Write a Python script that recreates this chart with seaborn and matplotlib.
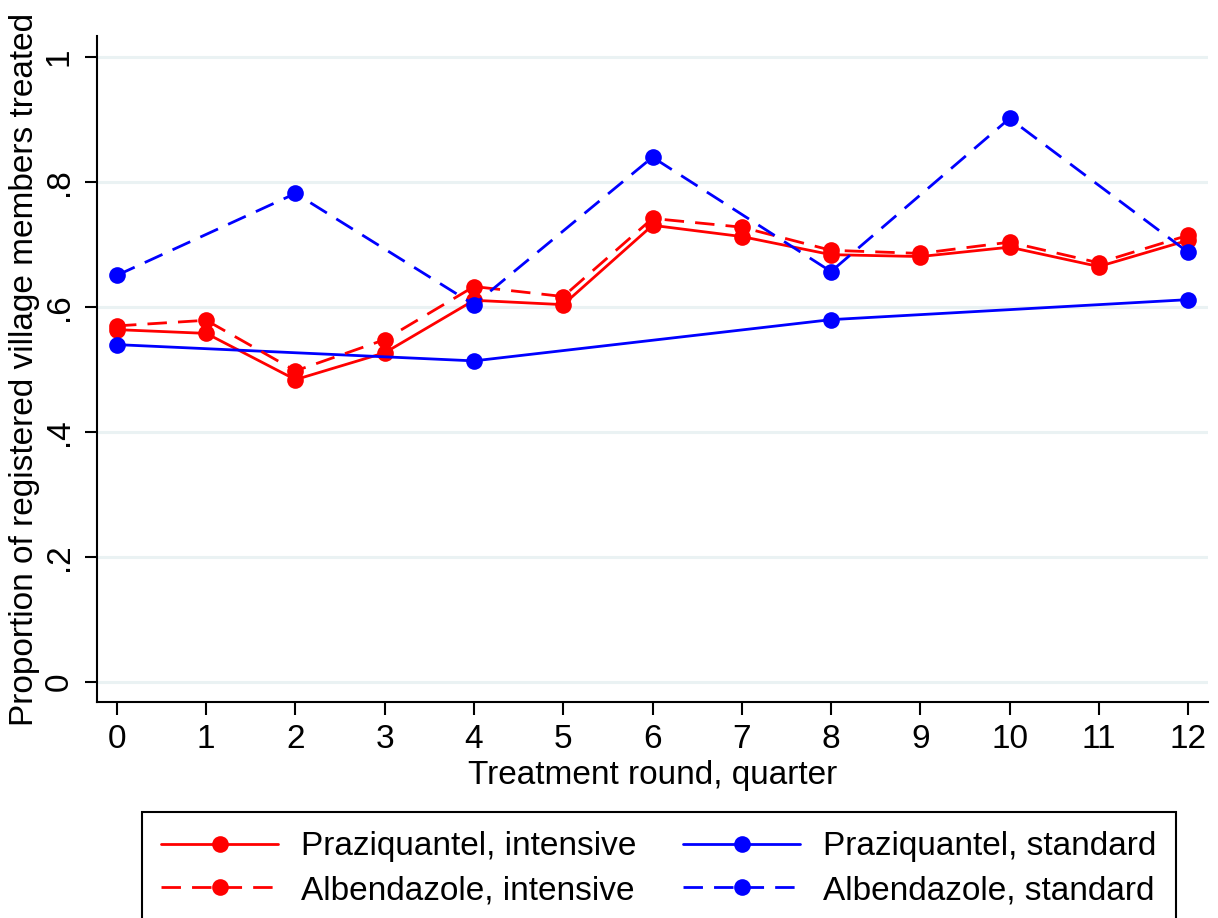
import numpy as np
import pandas as pd
import matplotlib
matplotlib.use("Agg")
import matplotlib.pyplot as plt
import seaborn as sns

# Values
rounds_all = [0, 1, 2, 3, 4, 5, 6, 7, 8, 9, 10, 11, 12]
prazi_intensive = [0.564, 0.558, 0.484, 0.527, 0.611, 0.604, 0.731, 0.713, 0.684, 0.681, 0.696, 0.665, 0.707]
albend_intensive = [0.570, 0.579, 0.498, 0.548, 0.633, 0.617, 0.742, 0.728, 0.691, 0.686, 0.704, 0.671, 0.715]
rounds_prazi_std = [0, 4, 8, 12]
prazi_standard = [0.540, 0.514, 0.580, 0.612]
rounds_albend_std = [0, 2, 4, 6, 8, 10, 12]
albend_standard = [0.651, 0.782, 0.604, 0.840, 0.657, 0.902, 0.688]

sns.set_theme(style="white")
plt.rcParams['font.family'] = ['Liberation Sans', 'DejaVu Sans']
plt.rcParams.update({"text.color": "black", "axes.labelcolor": "black",
                     "xtick.color": "black", "ytick.color": "black"})

fig = plt.figure(figsize=(12.18, 9.18), dpi=100)
ax = fig.add_axes([97 / 1218, 1 - 702 / 918, (1208 - 97) / 1218, (702 - 36) / 918])

series = [
    ("Praziquantel, intensive", rounds_all, prazi_intensive, "#ff0000", "-"),
    ("Praziquantel, standard", rounds_prazi_std, prazi_standard, "#0000ff", "-"),
    ("Albendazole, intensive", rounds_all, albend_intensive, "#ff0000", "--"),
    ("Albendazole, standard", rounds_albend_std, albend_standard, "#0000ff", "--"),
]

handles = {}
for name, x, y, col, ls in series:
    df = pd.DataFrame({"round": x, "prop": y})
    sns.lineplot(data=df, x="round", y="prop", ax=ax, color=col, marker="o",
                 markersize=12, markeredgewidth=0, linewidth=2.0, label=name)
    line = ax.get_lines()[-1]
    if ls == "--":
        line.set_dashes((7, 4))
    handles[name] = line

ax.set_xlim(-0.224, 12.224)
ax.set_ylim(-0.032, 1.034)
ax.set_xticks(rounds_all)
ax.set_yticks([0, 0.2, 0.4, 0.6, 0.8, 1.0])
ax.set_yticklabels(["0", ".2", ".4", ".6", ".8", "1"], rotation=90, va="center")
ax.tick_params(axis="both", labelsize=24, length=9, width=1.5, color="black",
               direction="out", bottom=True, left=True, pad=7)
ax.yaxis.grid(True, color="#eaf2f3", linewidth=2.2)
ax.xaxis.grid(False)
for s in ["top", "right"]:
    ax.spines[s].set_visible(False)
for s in ["left", "bottom"]:
    ax.spines[s].set_color("black")
    ax.spines[s].set_linewidth(1.5)

ax.set_xlabel("Treatment round, quarter", fontsize=24, labelpad=3.5)
ax.set_ylabel("Proportion of registered village members treated", fontsize=24, labelpad=2.5)
ax.get_legend().remove()

order = ["Praziquantel, intensive", "Albendazole, intensive",
         "Praziquantel, standard", "Albendazole, standard"]
leg = fig.legend([handles[k] for k in order], order, ncol=2, loc="upper left",
                 bbox_to_anchor=(142 / 1218, 1 - 812 / 918), fontsize=24,
                 frameon=True, fancybox=False, edgecolor="black", framealpha=1,
                 handlelength=3.5, handletextpad=0.7, columnspacing=1.4,
                 labelspacing=0.38, borderpad=0.58, borderaxespad=0, numpoints=1)
leg.get_frame().set_linewidth(1.5)

fig.savefig("out.png", dpi=100)
